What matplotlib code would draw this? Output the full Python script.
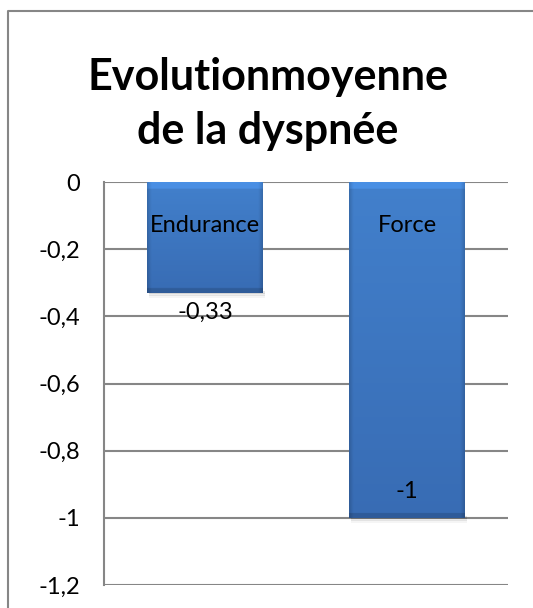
import matplotlib
matplotlib.use("Agg")
import matplotlib.pyplot as plt
import matplotlib.ticker as mtick
from matplotlib.patches import Rectangle
from matplotlib.lines import Line2D
import numpy as np

plt.rcParams["font.family"] = ["Lato", "DejaVu Sans"]

categories = ["Endurance", "Force"]
values = [-0.33, -1.0]
value_labels = ["-0,33", "-1"]
title = "Evolutionmoyenne\nde la dyspnée"

grid_grey = "#868686"
bar_top = np.array([0x42, 0x80, 0xcc]) / 255
bar_bottom = np.array([0x38, 0x6c, 0xb4]) / 255

W, H = 533, 608
fig = plt.figure(figsize=(W / 100, H / 100), dpi=100)

# chart frame: only the left and top edges are visible in the source
fx, fy = 8 / W, 1 - 11 / H
fig.lines.append(Line2D([fx, fx, 1.0], [0.0, fy, fy], transform=fig.transFigure,
                        color=grid_grey, linewidth=1.5))


def comma_fmt(v, pos):
    if abs(v) < 1e-9:
        return "0"
    return f"{v:g}".replace(".", ",")


ax = fig.add_axes([104 / W, 23 / H, 404 / W, 403 / H])
ax.set_xlim(-0.5, len(categories) - 0.5)
ax.set_ylim(-1.2, 0)
ax.yaxis.set_major_locator(mtick.MultipleLocator(0.2))
ax.yaxis.set_major_formatter(mtick.FuncFormatter(comma_fmt))
ax.tick_params(axis="y", length=0, pad=17, labelsize=17)
ax.tick_params(axis="x", length=0, labelbottom=False)
ax.grid(axis="y", color=grid_grey, linewidth=1.5)
ax.set_axisbelow(True)
for side in ["top", "right", "bottom"]:
    ax.spines[side].set_visible(False)
ax.spines["left"].set_color(grid_grey)
ax.spines["left"].set_linewidth(1.5)

width = 1 / 1.75
bars = ax.bar(range(len(categories)), values, width=width, color=bar_top, zorder=3)

# vertical gradient with darker sides and a light top bevel
ny, nx = 400, 100
t = np.linspace(0, 1, ny)[:, None]
s = np.linspace(-1, 1, nx)[None, :]
grad = bar_top[None, None, :] * (1 - t[..., None]) + bar_bottom[None, None, :] * t[..., None]
side = 1 - 0.15 * np.clip((np.abs(s) - 0.93) / 0.07, 0, 1)
grad = grad * side[..., None]
for b, v in zip(bars, values):
    x0 = b.get_x()
    img = grad.copy()
    rows = max(int(ny * 0.02 / abs(v)), 1)
    img[:rows] = np.clip(img[:rows] * 1.12, 0, 1)
    bot = max(int(ny * 0.015 / abs(v)), 1)
    img[-bot:] = img[-bot:] * 0.85
    im = ax.imshow(img, extent=[x0, x0 + width, v, 0], aspect="auto",
                   origin="upper", zorder=4, interpolation="bilinear")
    im.set_clip_path(b)
    # soft drop shadow
    for k, a in enumerate([0.10, 0.07, 0.04]):
        ax.add_patch(Rectangle((x0 + 0.01, v - 0.004 - 0.006 * k), width, 0.01,
                               facecolor="black", alpha=a, edgecolor="none", zorder=2))

# category names sit under the zero axis, inside the bars
for i, c in enumerate(categories):
    ax.annotate(c, (i, 0), xytext=(0, -31), textcoords="offset points",
                ha="center", va="center", fontsize=17, zorder=5)

label_offsets = [-14, 19]
for i, (v, lab) in enumerate(zip(values, value_labels)):
    ax.annotate(lab, (i, v), xytext=(0, label_offsets[i]), textcoords="offset points",
                ha="center", va="center", fontsize=17, zorder=5)

fig.text(0.502, 1 - 104 / H, title, ha="center", va="center", fontsize=31,
         fontweight="bold", linespacing=1.4)

fig.savefig("out.png", dpi=100)
